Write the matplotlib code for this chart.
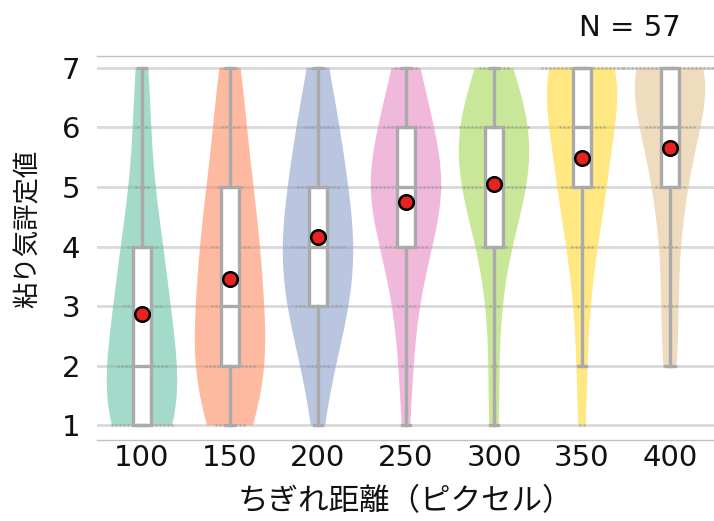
import numpy as np
import matplotlib.pyplot as plt

# rating counts (levels 1..7) for each tear distance, N = 57 per group
distances = ['100', '150', '200', '250', '300', '350', '400']
levels = [1, 2, 3, 4, 5, 6, 7]
counts_100 = [16, 13, 10, 8, 4, 3, 3]
counts_150 = [8, 13, 10, 10, 7, 5, 4]
counts_200 = [2, 6, 12, 14, 11, 8, 4]
counts_250 = [2, 3, 5, 11, 18, 12, 6]
counts_300 = [3, 2, 3, 7, 16, 18, 8]
counts_350 = [2, 2, 3, 6, 11, 12, 21]
counts_400 = [0, 4, 4, 4, 8, 13, 24]

all_counts = [counts_100, counts_150, counts_200, counts_250,
              counts_300, counts_350, counts_400]
colors = ['#66c2a5', '#fc8d62', '#8da0cb', '#e78ac3',
          '#a6d854', '#ffd92f', '#e5c494']

samples = [np.repeat(levels, c) for c in all_counts]
pos = np.arange(len(distances))

fig = plt.figure(figsize=(7.14, 5.21), dpi=100)
ax = fig.add_axes([0.136, 0.155, 0.864, 0.738])

# grid
for lv in levels:
    ax.axhline(lv, color='#d9d9d9', lw=2, zorder=0)

vp = ax.violinplot(samples, positions=pos, widths=0.8, showextrema=False,
                   bw_method=0.5)
for body, col in zip(vp['bodies'], colors):
    body.set_facecolor(col)
    body.set_edgecolor('none')
    body.set_alpha(0.6)
    body.set_zorder(1)

# swarm-like rows of points at each rating
for i, cnt in enumerate(all_counts):
    for lv, n in zip(levels, cnt):
        if n == 0:
            continue
        xs = pos[i] + (np.arange(n) - (n - 1) / 2) * 0.045
        ax.scatter(xs, [lv] * n, s=3, color='#a0a0a0', alpha=0.8,
                   linewidths=0, zorder=2)

gray = '#aaaaaa'
ax.boxplot(samples, positions=pos, widths=0.2, patch_artist=True,
           showfliers=False, manage_ticks=False, zorder=3,
           boxprops=dict(facecolor='white', edgecolor=gray, lw=2.4),
           medianprops=dict(color=gray, lw=2.4),
           whiskerprops=dict(color=gray, lw=2.4),
           capprops=dict(color=gray, lw=2.4))

means = [s.mean() for s in samples]
ax.scatter(pos, means, s=110, color='#e8231f', edgecolors='black',
           linewidths=1.8, zorder=5)

ax.set_xlim(-0.51, 6.5)
ax.set_ylim(0.75, 7.2)
ax.set_xticks(pos)
ax.set_xticklabels(distances)
ax.set_yticks(levels)
ax.tick_params(length=0, labelsize=21, colors='#111111', pad=3)
ax.tick_params(axis='y', pad=12)

for side in ['left', 'right']:
    ax.spines[side].set_visible(False)
for side in ['top', 'bottom']:
    ax.spines[side].set_color('#c0c0c0')
    ax.spines[side].set_linewidth(1)

jp = ['Noto Sans CJK JP', 'DejaVu Sans']
ax.set_ylabel('粘り気評定値', fontsize=19, family=jp, color='#111111')
ax.yaxis.set_label_coords(-0.09, 0.55)
ax.set_xlabel('ちぎれ距離（ピクセル）', fontsize=22, family=jp,
              color='#111111', labelpad=10)
fig.text(0.953, 0.947, 'N = 57', fontsize=21, ha='right', va='center',
         color='#111111')

fig.savefig('out.png', dpi=100)
